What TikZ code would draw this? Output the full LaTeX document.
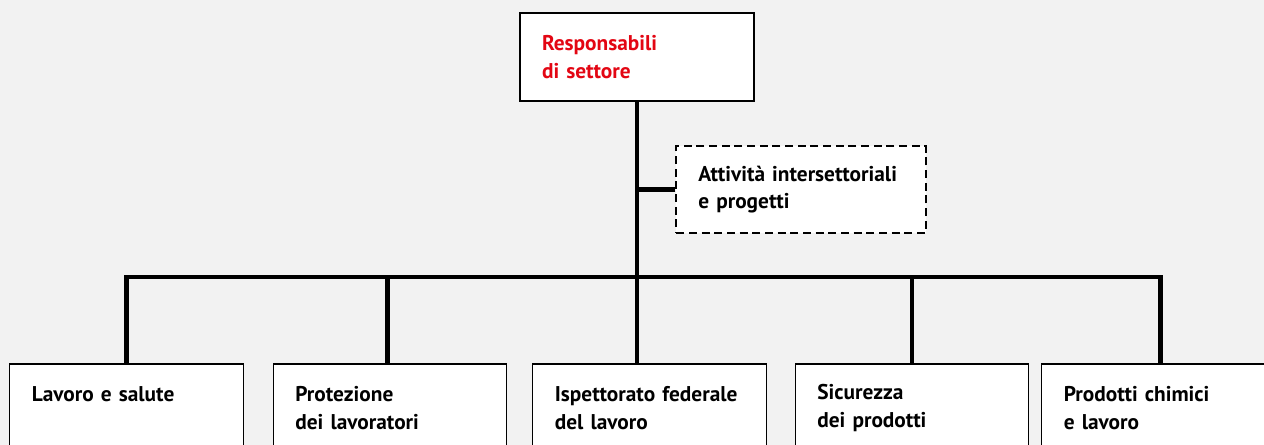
\documentclass[tikz,border=0pt]{standalone}
\usepackage{fontspec}
\setmainfont{PT Sans}
\definecolor{paper}{RGB}{242, 242, 242}
\definecolor{swissred}{RGB}{227, 6, 19}

\begin{document}
\begin{tikzpicture}[x=0.75pt, y=-0.75pt,
    box/.style    = {draw=black, fill=white, line width=0.9pt, rectangle, align=left,
                     inner xsep=16.5pt, inner ysep=0pt, font=\fontsize{16}{20.5}\selectfont\bfseries},
    head/.style   = {box, line width=1.1pt, text width=142.5pt, minimum height=66pt, text=swissred},
    side/.style   = {box, line width=1.3pt, dash pattern=on 6pt off 3.5pt, text width=154pt, minimum height=65pt},
    unit/.style   = {box, text width=142pt, minimum height=66pt},
    link/.style   = {line width=3.7pt}]
            \fill[paper] (0,0) rectangle (1264,445);
            \clip        (0,0) rectangle (1264,445);
            \coordinate (bar) at (637,277);
            \node[head] (rs) at ( 637.0, 57.0) {Responsabili\\di settore};
            \node[side] (ai) at ( 801.0,189.5) {Attività intersettoriali\\e progetti};
            \node[unit] (ls) at ( 126.5,408.0) {Lavoro e salute\\\mbox{}};
            \node[unit] (pl) at ( 390.0,408.0) {Protezione\\dei lavoratori};
            \node[unit] (if) at ( 649.5,408.0) {Ispettorato federale\\del lavoro};
            \node[unit] (sp) at ( 912.0,408.0) {Sicurezza\\dei prodotti};
            \node[unit] (pc) at (1158.5,408.0) {Prodotti chimici\\e lavoro};
            \draw[link] (rs.south) -- (rs.south |- if.north);
            \draw[link] (ai.west)  -- (ai.west -| rs.south);
            \draw[link] (ls.north) |- (bar) -| ([xshift=1.5]pc.north);
            \draw[link] ([xshift=-2]pl.north) -- ([xshift=-2]pl.north |- bar);
            \draw[link] (sp.north) -- (sp.north |- bar);
            \end{tikzpicture}
\end{document}
